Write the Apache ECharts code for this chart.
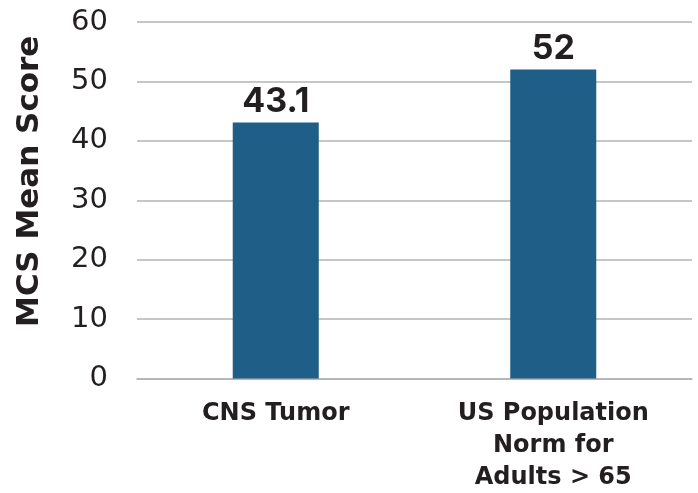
<!DOCTYPE html>
<html><head><meta charset="utf-8">
<script src="https://cdn.jsdelivr.net/npm/echarts@6/dist/echarts.min.js"></script>
<style>html,body{margin:0;padding:0;background:#fff}#c{width:698px;height:493px}</style>
</head><body><div id="c"></div>
<script>
const categories = ['CNS Tumor', 'US Population\nNorm for\nAdults > 65'];
const values = [43.1, 52];
const yTicks = {min: 0, max: 60, interval: 10};
const yTitle = 'MCS Mean Score';

const chart = echarts.init(document.getElementById('c'), null, {renderer: 'canvas'});
chart.setOption({
  animation: false,
  grid: {left: 137, right: 6, top: 22, bottom: 114.5, containLabel: false, outerBoundsMode: 'none'},
  xAxis: {
    type: 'category', data: categories,
    axisLine: {show: true, lineStyle: {color: '#B3B3B3', width: 1.5}},
    axisTick: {show: false},
    axisLabel: {interval: 0, margin: 19, color: '#231F20', fontFamily: 'DejaVu Sans', fontWeight: 700, fontSize: 24, lineHeight: 32}
  },
  yAxis: {
    type: 'value', min: yTicks.min, max: yTicks.max, interval: yTicks.interval,
    name: yTitle, nameLocation: 'middle', nameRotate: 90, nameGap: 92,
    nameTextStyle: {color: '#231F20', fontFamily: 'DejaVu Sans', fontWeight: 700, fontSize: 31, padding: [0, 0, 0, 38]},
    axisLine: {show: false}, axisTick: {show: false},
    axisLabel: {margin: 29, color: '#231F20', fontFamily: 'DejaVu Sans', fontSize: 29},
    splitLine: {lineStyle: {color: '#B3B3B3', width: 1.5}}
  },
  series: [{
    type: 'bar', data: values, barWidth: '31%',
    itemStyle: {color: '#1F5F87'},
    label: {show: true, position: 'top', distance: 4, color: '#231F20', fontFamily: 'Inter', fontWeight: 700, fontSize: 34}
  }]
});
</script></body></html>
